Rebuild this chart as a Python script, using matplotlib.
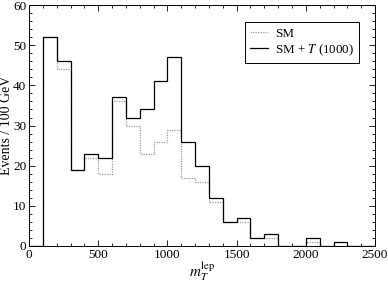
import numpy as np
import matplotlib
matplotlib.use('Agg')
import matplotlib.pyplot as plt
from matplotlib.ticker import MultipleLocator

plt.rcParams['font.family'] = 'Liberation Serif'
plt.rcParams['mathtext.fontset'] = 'stix'

edges = np.arange(0, 2600, 100)
sm_t = [0, 52, 46, 19, 23, 22, 37, 32, 34, 41, 47, 26, 20, 12, 6, 7, 2, 3, 0, 0, 2, 0, 1, 0, 0]
sm = [0, 52, 44, 19, 22, 18, 36, 30, 23, 26, 29, 17, 16, 11, 6, 6, 2, 2, 0, 0, 1, 0, 0, 0, 0]

fig = plt.figure(figsize=(3.88, 2.84), dpi=100)
ax = fig.add_axes([0.0747, 0.134, 0.892, 0.848])

ax.stairs(sm, edges, baseline=None, color='#999999', ls=(0, (1, 1)), lw=0.9, label='SM')
ax.stairs(sm_t, edges, baseline=None, color='black', ls='-', lw=0.9,
          label=r'SM + $T$ (1000)')

ax.set_xlim(0, 2500)
ax.set_ylim(0, 60)
ax.xaxis.set_major_locator(MultipleLocator(500))
ax.xaxis.set_minor_locator(MultipleLocator(100))
ax.yaxis.set_major_locator(MultipleLocator(10))
ax.yaxis.set_minor_locator(MultipleLocator(2))
ax.tick_params(which='both', direction='in', top=True, right=True, labelsize=9.5, pad=2)
ax.tick_params(which='major', length=4, width=0.6)
ax.tick_params(which='minor', length=2, width=0.6)
for s in ax.spines.values():
    s.set_linewidth(0.7)

ax.set_xlabel(r'$m_T^{\rm lep}$', fontsize=11, labelpad=0)
ax.set_ylabel('Events / 100 GeV', fontsize=10)
ax.yaxis.set_label_coords(-0.046, 0.5)

leg = ax.legend(loc='upper right', fontsize=9.4, handlelength=1.4, handletextpad=0.5,
                fancybox=False, edgecolor='black', framealpha=1, borderpad=0.4,
                labelspacing=0.2, borderaxespad=0, bbox_to_anchor=(0.954, 0.929))
leg.get_frame().set_linewidth(0.7)

fig.savefig('out.png', dpi=100)
